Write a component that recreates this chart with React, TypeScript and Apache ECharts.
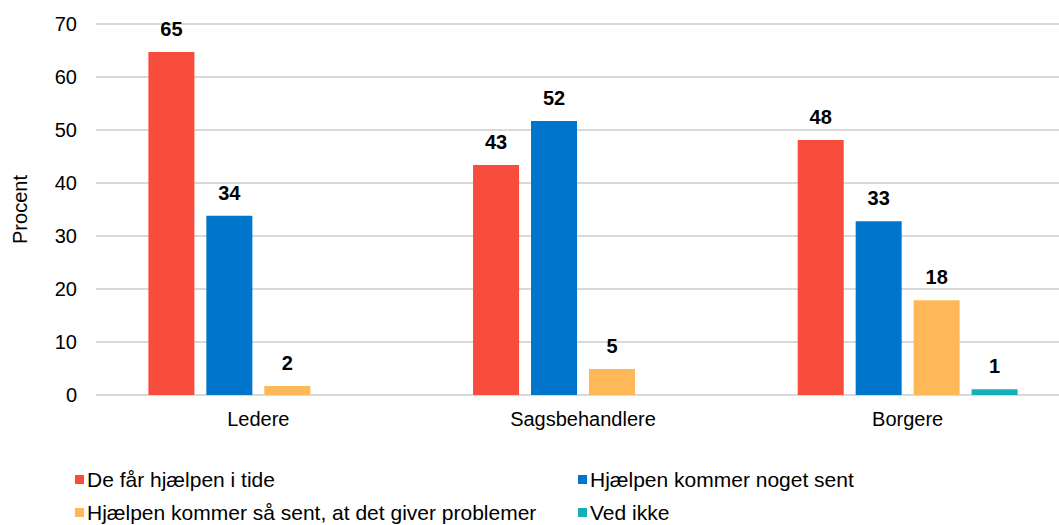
import React, { useEffect, useRef } from "react";
import * as echarts from "echarts";

const categories = ["Ledere", "Sagsbehandlere", "Borgere"];
const seriesNames = [
  "De får hjælpen i tide",
  "Hjælpen kommer noget sent",
  "Hjælpen kommer så sent, at det giver problemer",
  "Ved ikke",
];
const onTime = [64.7, 43.4, 48.1];
const somewhatLate = [33.8, 51.7, 32.8];
const tooLate = [1.7, 4.9, 17.9];
const dontKnow = [0, 0, 1.1];
const colors = ["#F84C3C", "#0075CC", "#FFB857", "#14AFB8"];
const yTicks = { min: 0, max: 70, interval: 10 };

const FONT = "Liberation Sans, Arial, sans-serif";

export default function App() {
  const ref = useRef<HTMLDivElement>(null);
  useEffect(() => {
    if (!ref.current) return;
    const chart = echarts.init(ref.current, null, { renderer: "svg" });
    const dataSets = [onTime, somewhatLate, tooLate, dontKnow];
    const legendPos = [
      { left: 70, top: 464 },
      { left: 573, top: 464 },
      { left: 70, top: 497 },
      { left: 573, top: 497 },
    ];
    chart.setOption({
      animation: false,
      textStyle: { fontFamily: FONT },
      grid: { left: 96, right: 0, top: 24, bottom: 130, containLabel: false },
      legend: seriesNames.map((n, i) => ({
        data: [n],
        left: legendPos[i].left,
        top: legendPos[i].top,
        icon: "rect",
        itemWidth: 9,
        itemHeight: 9,
        itemGap: 3,
        textStyle: { fontSize: 21, lineHeight: 21, color: "#000", fontFamily: FONT, padding: [0, 0, 0, -2] },
        selectedMode: false,
      })),
      xAxis: {
        type: "category",
        data: categories,
        axisTick: { show: false },
        axisLine: { show: false },
        axisLabel: { fontSize: 20, color: "#000", margin: 14 },
      },
      yAxis: {
        type: "value",
        min: yTicks.min,
        max: yTicks.max,
        interval: yTicks.interval,
        name: "Procent",
        nameLocation: "middle",
        nameGap: 66,
        nameRotate: 90,
        nameTextStyle: { fontSize: 20, color: "#000" },
        axisLabel: { fontSize: 20, color: "#000", margin: 19 },
        splitLine: { lineStyle: { color: "#D9D9D9", width: 2 } },
        axisLine: { show: false },
        axisTick: { show: false },
      },
      series: seriesNames.map((n, i) => ({
        name: n,
        type: "bar",
        data: dataSets[i].map((v) => (v === 0 ? null : v)),
        barWidth: 46,
        barGap: "26%",
        itemStyle: { color: colors[i] },
        label: {
          show: true,
          position: "top",
          distance: 13,
          fontSize: 20,
          fontWeight: "bold",
          color: "#000",
          formatter: (p: any) => String(Math.round(p.value)),
        },
      })),
    });
    return () => chart.dispose();
  }, []);
  return (
    <div
      style={{ position: "absolute", left: 0, top: 0, width: 1059, height: 525, overflow: "hidden", background: "#fff" }}
    >
      <div ref={ref} style={{ width: 1070, height: 525 }} />
    </div>
  );
}
